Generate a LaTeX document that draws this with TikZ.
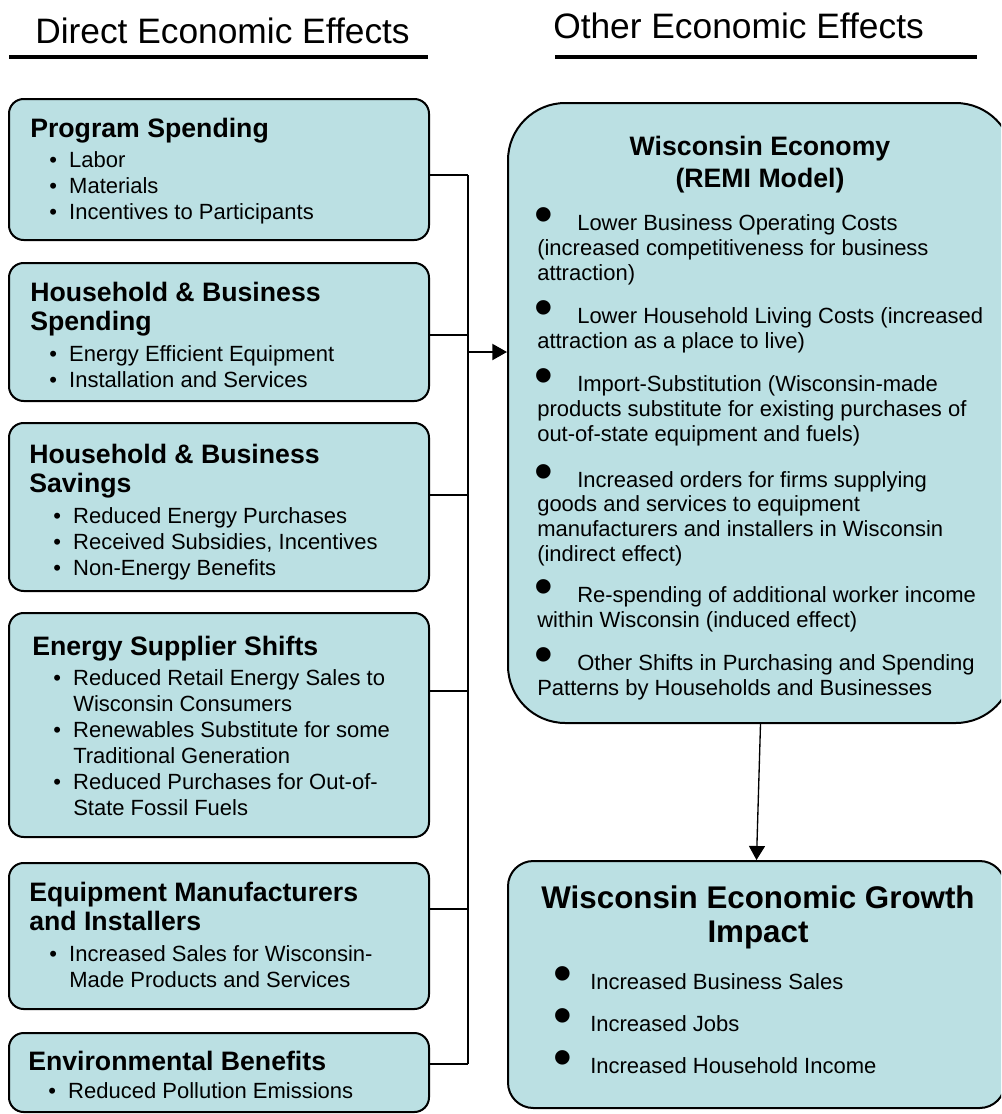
\documentclass[tikz,border=0pt]{standalone}
\usepackage{fontspec}
\setmainfont{Liberation Sans}
\usepackage{tikz}
\usetikzlibrary{fit,arrows.meta}
\definecolor{boxblue}{RGB}{187,224,227}
\tikzset{
  lbox/.style={draw,line width=1.5pt,fill=boxblue,rounded corners=11pt,inner sep=0pt},
  ecobox/.style={draw,line width=1.5pt,fill=boxblue,rounded corners=43pt,inner sep=0pt},
  growbox/.style={draw,line width=1.5pt,fill=boxblue,rounded corners=19pt,inner sep=0pt},
  heading/.style={inner sep=0pt,anchor=base west,font=\fontsize{26.5}{30}\selectfont},
  ltitle/.style={inner sep=0pt,anchor=base west,align=left,font=\fontsize{20}{21.75}\selectfont\bfseries},
  litems/.style={inner sep=0pt,anchor=base west,align=left,font=\fontsize{16.5}{19.5}\selectfont},
  ritem/.style={inner sep=0pt,anchor=base west,align=left,font=\fontsize{16.5}{18.5}\selectfont},
  link/.style={line width=1.5pt},
  rule/.style={line width=3pt}
}
\newcommand{\lbul}{\makebox[15pt][l]{\textbullet}}
\newcommand{\lind}{\hspace*{15pt}}
\newcommand{\rbul}[1]{\makebox[#1][l]{\hspace*{-2.25pt}\raisebox{-1.5pt}{\fontsize{40}{40}\selectfont\textbullet}}}

\begin{document}
\begin{tikzpicture}[x=0.75pt,y=-0.75pt]
  % drawing parameters
  \pgfmathsetmacro{\busx}{468} % x of the collecting line
  \clip (0,0) rectangle (1001,1114);

  % headings
  \node[heading] (direct) at (35,43) {Direct Economic Effects};
  \node[heading] (other) at (553,38) {Other Economic Effects};
  \draw[rule] (9,57) -- (428,57);
  \draw[rule] (555,57) -- (977,57);

  % left boxes
  \node[lbox,fit={(9,99) (429,240)}] (progspend) {};
  \node[lbox,fit={(9,263) (429,401)}] (hhspend) {};
  \node[lbox,fit={(9,423) (429,591)}] (hhsave) {};
  \node[lbox,fit={(9,613) (429,837)}] (supplier) {};
  \node[lbox,fit={(9,863) (429,1009)}] (manuf) {};
  \node[lbox,fit={(9,1033) (429,1112)}] (environ) {};

  % left texts (placed at the baseline of their last line)
  \node[ltitle] (progspend-t) at (30,137) {Program Spending};
  \node[litems] (progspend-l) at (49,219) {\lbul Labor\\\lbul Materials\\\lbul Incentives to Participants};
  \node[ltitle] (hhspend-t) at (30,330) {Household \& Business\\Spending};
  \node[litems] (hhspend-l) at (49,387) {\lbul Energy Efficient Equipment\\\lbul Installation and Services};
  \node[ltitle] (hhsave-t) at (29,492) {Household \& Business\\Savings};
  \node[litems] (hhsave-l) at (53,575) {\lbul Reduced Energy Purchases\\\lbul Received Subsidies, Incentives\\\lbul Non-Energy Benefits};
  \node[ltitle] (supplier-t) at (32,655) {Energy Supplier Shifts};
  \node[litems] (supplier-l) at (53,815) {\lbul Reduced Retail Energy Sales to\\\lind Wisconsin Consumers\\\lbul Renewables Substitute for some\\\lind Traditional Generation\\\lbul Reduced Purchases for Out-of-\\\lind State Fossil Fuels};
  \node[ltitle] (manuf-t) at (29,930) {Equipment Manufacturers\\and Installers};
  \node[litems] (manuf-l) at (49,987) {\lbul Increased Sales for Wisconsin-\\\lind Made Products and Services};
  \node[ltitle] (environ-t) at (28,1070) {Environmental Benefits};
  \node[litems] (environ-l) at (48,1098) {\lbul Reduced Pollution Emissions};

  % right boxes
  \node[ecobox,fit={(508,103) (1013,723)}] (economy) {};
  \node[growbox,fit={(508,861) (1005,1108)}] (growth) {};

  % economy texts
  \node[inner sep=0pt,anchor=base,align=center,font=\fontsize{20}{24}\selectfont\bfseries] (economy-t) at (760,187) {Wisconsin Economy\\(REMI Model)};
  \node[ritem] (eco-a) at (537,280) {\rbul{30pt}Lower Business Operating Costs\\(increased competitiveness for business\\attraction)};
  \node[ritem] (eco-b) at (537,348) {\rbul{30pt}Lower Household Living Costs (increased\\attraction as a place to live)};
  \node[ritem] (eco-c) at (537,441) {\rbul{30pt}Import-Substitution (Wisconsin-made\\products substitute for existing purchases of\\out-of-state equipment and fuels)};
  \node[ritem] (eco-d) at (537,561) {\rbul{30pt}Increased orders for firms supplying\\goods and services to equipment\\manufacturers and installers in Wisconsin\\(indirect effect)};
  \node[ritem] (eco-e) at (537,627) {\rbul{30pt}Re-spending of additional worker income\\within Wisconsin (induced effect)};
  \node[ritem] (eco-f) at (537,695) {\rbul{30pt}Other Shifts in Purchasing and Spending\\Patterns by Households and Businesses};

  % growth texts
  \node[inner sep=0pt,anchor=base,align=center,font=\fontsize{23.5}{25.5}\selectfont\bfseries] (growth-t) at (758,942) {Wisconsin Economic Growth\\Impact};
  \node[inner sep=0pt,anchor=base west,align=left,font=\fontsize{16.5}{31.5}\selectfont] (growth-l) at (556,1073) {\rbul{25.5pt}Increased Business Sales\\\rbul{25.5pt}Increased Jobs\\\rbul{25.5pt}Increased Household Income};

  % connectors
  \coordinate (j1) at (\busx,175);
  \coordinate (j2) at (\busx,335);
  \coordinate (j3) at (\busx,495);
  \coordinate (j4) at (\busx,691);
  \coordinate (j5) at (\busx,909);
  \coordinate (j6) at (\busx,1064);
  \coordinate (jarrow) at (\busx,352);
  \draw[link] (progspend.east |- j1) -- (j1);
  \draw[link] (hhspend.east |- j2) -- (j2);
  \draw[link] (hhsave.east |- j3) -- (j3);
  \draw[link] (supplier.east |- j4) -- (j4);
  \draw[link] (manuf.east |- j5) -- (j5);
  \draw[link] (environ.east |- j6) -- (j6);
  \draw[link] (j1) -- (j6);
  \draw[link,-{Triangle[length=11pt,width=12pt]}] (jarrow) -- (economy.west |- jarrow);
  \draw[line width=1pt,-{Triangle[length=10.5pt,width=12pt]}] (economy.south) -- (growth.north);
\end{tikzpicture}
\end{document}
